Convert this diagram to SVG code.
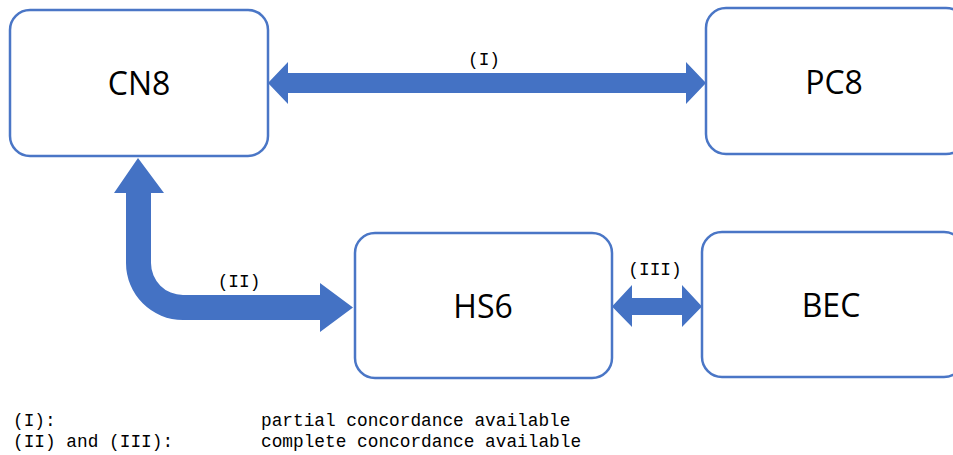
<svg xmlns="http://www.w3.org/2000/svg" width="953" height="455" viewBox="0 0 953 455">
<style>
.box{fill:#fff;stroke:#4a76c6;stroke-width:2.5}
.lbl{font-family:"Open Sans","Noto Sans",sans-serif;font-size:32px;fill:#000;text-anchor:middle}
.mono{font-family:"Liberation Mono","DejaVu Sans Mono",monospace;font-size:17.8px;fill:#000}
.arr{fill:#4472c4}
</style>
<rect width="953" height="455" fill="#fff"/>
<g id="connectors">
<path class="arr" d="M268,83 L288,62 L288,73 L686,73 L686,62 L706,83 L686,104 L686,93 L288,93 L288,104 Z"/>
<path class="arr" d="M138,158 L164,193 L151,193 L151,263 A32,32 0 0 0 183,295 L320,295 L320,283 L353,307.5 L320,332 L320,320 L183,320 A57,57 0 0 1 126,263 L126,193 L114,193 Z"/>
<path class="arr" d="M612,306.5 L632,285 L632,298 L682,298 L682,285 L702,306.5 L682,327 L682,315 L632,315 L632,327 Z"/>
<text class="mono" x="484" y="65" text-anchor="middle">(I)</text>
<text class="mono" x="239" y="287" text-anchor="middle">(II)</text>
<text class="mono" x="655" y="275" text-anchor="middle">(III)</text>
</g>
<g id="CN8"><rect class="box" x="10" y="10" width="258" height="146" rx="20"/><text class="lbl" x="139" y="95">CN8</text></g>
<g id="PC8"><rect class="box" x="706" y="8" width="260" height="146" rx="20"/><text class="lbl" x="834" y="94">PC8</text></g>
<g id="HS6"><rect class="box" x="355" y="233" width="257" height="145" rx="20"/><text class="lbl" x="483" y="318">HS6</text></g>
<g id="BEC"><rect class="box" x="702" y="232" width="262" height="145" rx="20"/><text class="lbl" x="831" y="317">BEC</text></g>
<g id="legend">
<text class="mono" x="13" y="426">(I):</text>
<text class="mono" x="261" y="426">partial concordance available</text>
<text class="mono" x="13" y="447">(II) and (III):</text>
<text class="mono" x="261" y="447">complete concordance available</text>
</g>
</svg>
